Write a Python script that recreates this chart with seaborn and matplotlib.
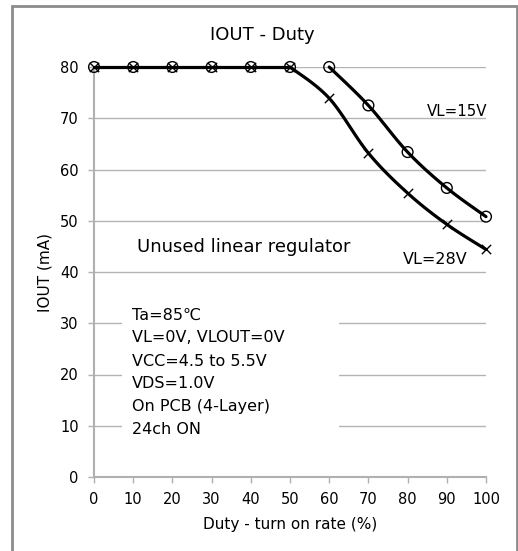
import numpy as np
import pandas as pd
import matplotlib.pyplot as plt
import seaborn as sns
from matplotlib.patches import Rectangle

sns.set_style('white')
plt.rcParams['font.family'] = ['DejaVu Sans']
plt.rcParams['text.color'] = 'black'

# Data
duty = [0, 10, 20, 30, 40, 50, 60, 70, 80, 90, 100]
iout_15v = [80, 80, 80, 80, 80, 80, 80, 72.5, 63.4, 56.4, 50.8]
iout_28v = [80, 80, 80, 80, 80, 80, 73.9, 63.2, 55.4, 49.3, 44.4]

conditions = ['Ta=85℃', 'VL=0V, VLOUT=0V', 'VCC=4.5 to 5.5V',
              'VDS=1.0V', 'On PCB (4-Layer)', '24ch ON']

W, H = 518, 551


def smooth(x, y, n=25):
    # spreadsheet style smoothed line (bezier through the points)
    x = np.asarray(x, float)
    y = np.asarray(y, float)
    px = np.r_[x[0], x, x[-1]]
    py = np.r_[y[0], y, y[-1]]
    t = np.linspace(0, 1, n)
    xs, ys = [], []
    for i in range(len(x) - 1):
        p0 = np.array([px[i + 1], py[i + 1]])
        p3 = np.array([px[i + 2], py[i + 2]])
        p1 = p0 + (np.array([px[i + 2], py[i + 2]]) - np.array([px[i], py[i]])) / 6
        p2 = p3 - (np.array([px[i + 3], py[i + 3]]) - np.array([px[i + 1], py[i + 1]])) / 6
        b = ((1 - t) ** 3)[:, None] * p0 + (3 * (1 - t) ** 2 * t)[:, None] * p1 \
            + (3 * (1 - t) * t ** 2)[:, None] * p2 + (t ** 3)[:, None] * p3
        xs.append(b[:, 0])
        ys.append(b[:, 1])
    return np.concatenate(xs), np.concatenate(ys)


fig = plt.figure(figsize=(W / 100, H / 100), dpi=100)
ax = fig.add_axes([94 / W, 74 / H, 392 / W, 410 / H])

# flat part (both series overlap), then the falling curves
sns.lineplot(x=duty[:6], y=iout_28v[:6], ax=ax, color='black', lw=2.3,
             sort=False, zorder=3, clip_on=False)
sx, sy = smooth(duty[5:], iout_28v[5:])
sns.lineplot(x=sx, y=sy, ax=ax, color='black', lw=2.3, sort=False,
             zorder=3, clip_on=False)
sx, sy = smooth(duty[6:], iout_15v[6:])
sns.lineplot(x=sx, y=sy, ax=ax, color='black', lw=2.3, sort=False,
             zorder=3, clip_on=False)

pts = pd.DataFrame({'duty': duty, '15V': iout_15v, '28V': iout_28v})
ax.scatter(pts['duty'], pts['15V'], marker='o', s=60, facecolors='none',
           edgecolors='black', linewidths=1.0, zorder=4, clip_on=False)
ax.scatter(pts['duty'], pts['28V'], marker='x', s=45, color='black',
           linewidths=1.0, zorder=4, clip_on=False)

ax.set_xlim(0, 100)
ax.set_ylim(0, 80)
ax.set_xticks(range(0, 101, 10))
ax.set_yticks(range(0, 81, 10))
ax.set_xlabel('')
ax.set_ylabel('')
ax.yaxis.grid(True, color='#b4b4b4', lw=1)
ax.set_axisbelow(True)
for s in ['top', 'right']:
    ax.spines[s].set_visible(False)
for s in ['left', 'bottom']:
    ax.spines[s].set_color('#b0b0b0')
    ax.spines[s].set_linewidth(1.5)
ax.tick_params(axis='both', direction='out', length=4, width=1,
               color='#b0b0b0', labelsize=10.5, labelcolor='black')
ax.tick_params(axis='x', pad=7, bottom=True)
ax.tick_params(axis='y', pad=7, left=True)

fig.text(262 / W, 1 - 35 / H, 'IOUT - Duty', ha='center', va='center', fontsize=13)
fig.text(45 / W, 1 - 272 / H, 'IOUT (mA)', ha='center', va='center',
         rotation=90, fontsize=11)
fig.text(290 / W, 1 - 525 / H, 'Duty - turn on rate (%)', ha='center',
         va='center', fontsize=11)

fig.text(457 / W, 1 - 111 / H, 'VL=15V', ha='center', va='center', fontsize=10.8)
fig.text(435 / W, 1 - 260 / H, 'VL=28V', ha='center', va='center', fontsize=11.5)
fig.text(244 / W, 1 - 247 / H, 'Unused linear regulator', ha='center',
         va='center', fontsize=13)

# white box behind the test conditions
fig.patches.append(Rectangle((122 / W, 1 - 440 / H), 217 / W, 137 / H,
                             transform=fig.transFigure, facecolor='white',
                             edgecolor='none', zorder=1))
for i, line in enumerate(conditions):
    fig.text(132 / W, 1 - (315 + 23 * i) / H, line, ha='left', va='center',
             fontsize=11.5, zorder=2)

# outer chart frame
fig.patches.append(Rectangle((11.5 / W, -0.1), 505 / W, 1.1 - 6 / H,
                             transform=fig.transFigure, fill=False,
                             edgecolor='#8c8c8c', lw=2, zorder=5))

fig.savefig('out.png', dpi=100)
